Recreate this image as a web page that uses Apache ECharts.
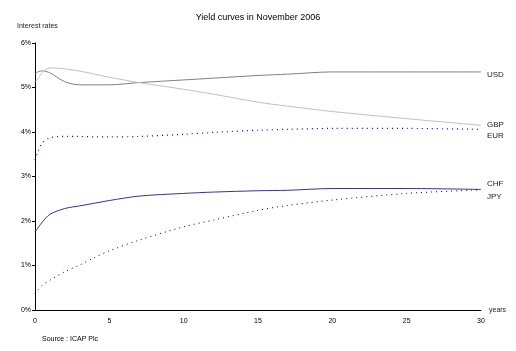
<!DOCTYPE html>
<html>
<head>
<meta charset="utf-8">
<script src="https://cdn.jsdelivr.net/npm/echarts@6/dist/echarts.min.js"></script>
<style>
html,body{margin:0;padding:0;background:#fff;}
#chart{width:516px;height:351px;}
</style>
</head>
<body>
<div id="chart"></div>
<script>
// maturities (years)
var tenors = [0, 0.25, 0.5, 1, 2, 3, 4, 5, 7, 10, 12, 15, 17, 20, 25, 30];
// yields in %
var usd = [5.30, 5.36, 5.37, 5.33, 5.13, 5.06, 5.06, 5.06, 5.11, 5.17, 5.21, 5.27, 5.30, 5.35, 5.35, 5.35];
var gbp = [5.13, 5.22, 5.34, 5.44, 5.42, 5.37, 5.30, 5.23, 5.11, 4.96, 4.85, 4.67, 4.58, 4.46, 4.30, 4.15];
var eur = [3.37, 3.60, 3.75, 3.87, 3.90, 3.90, 3.89, 3.89, 3.90, 3.95, 3.99, 4.04, 4.06, 4.08, 4.08, 4.06];
var chf = [1.76, 1.87, 1.98, 2.15, 2.28, 2.34, 2.40, 2.46, 2.56, 2.62, 2.65, 2.68, 2.69, 2.73, 2.73, 2.71];
var jpy = [0.37, 0.47, 0.56, 0.67, 0.86, 1.01, 1.18, 1.33, 1.57, 1.87, 2.02, 2.24, 2.35, 2.47, 2.62, 2.70];
var yTicks = ['0%', '1%', '2%', '3%', '4%', '5%', '6%'];

function pairs(vals){
    var out = [];
    for (var i = 0; i < tenors.length; i++) {
        out.push([tenors[i], vals[i]]);
    }
    return out;
}

function curve(name, vals, color, type, width, off){
    return {
        name: name,
        type: 'line',
        data: pairs(vals),
        smooth: 0.3,
        showSymbol: false,
        lineStyle: {color: color, width: width, type: type},
        endLabel: {
            show: true,
            formatter: name,
            color: '#1a1a2e',
            fontSize: 8,
            distance: 6,
            offset: [0, off]
        },
        z: 2
    };
}

var txt = {fontFamily: 'Liberation Sans, Arial, sans-serif'};
var chart = echarts.init(document.getElementById('chart'));
var option = {
    animation: false,
    textStyle: txt,
    title: [
        {text: 'Yield curves in November 2006', left: 'center', top: 8,
            textStyle: {fontSize: 9, fontWeight: 'normal', color: '#000'}},
        {text: 'Interest rates', left: 12, top: 18,
            textStyle: {fontSize: 7, fontWeight: 'normal', color: '#1a1a40'}},
        {text: 'Source : ICAP Plc', left: 37, top: 331,
            textStyle: {fontSize: 7, fontWeight: 'normal', color: '#000'}}
    ],
    grid: {left: 35, right: 35, top: 43, bottom: 41, containLabel: false},
    xAxis: {
        type: 'value',
        min: 0,
        max: 30,
        interval: 5,
        name: 'years',
        nameLocation: 'end',
        nameGap: 8,
        nameTextStyle: {fontSize: 7, color: '#1a1a40', verticalAlign: 'middle'},
        axisLine: {lineStyle: {color: '#000', width: 1}},
        axisTick: {show: false},
        axisLabel: {fontSize: 7, color: '#000', margin: 8},
        splitLine: {show: false}
    },
    yAxis: {
        type: 'value',
        min: 0,
        max: 6,
        interval: 1,
        axisLine: {show: true, lineStyle: {color: '#000', width: 1}},
        axisTick: {show: true, length: 3, lineStyle: {color: '#000'}},
        axisLabel: {fontSize: 7, color: '#000', margin: 4,
            formatter: function (v) { return yTicks[v]; }},
        splitLine: {show: false}
    },
    series: [
        curve('USD', usd, '#808080', 'solid', 1, 3),
        curve('GBP', gbp, '#c0c0c0', 'solid', 1, -1),
        curve('EUR', eur, '#0000ff', [1, 4], 1.2, 6),
        curve('CHF', chf, '#333399', 'solid', 1, -6),
        curve('JPY', jpy, '#000000', [1, 4], 1, 7)
    ]
};
chart.setOption(option);
</script>
</body>
</html>
